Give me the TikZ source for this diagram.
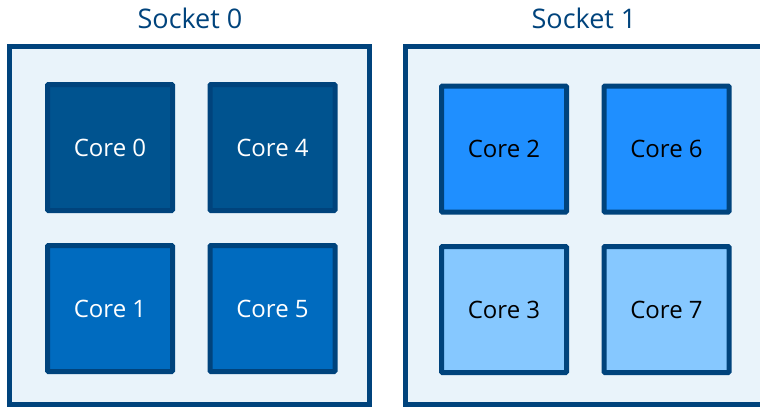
\documentclass[tikz,border=0pt]{standalone}
\usepackage{fontspec}
\setmainfont{Open Sans}
\usepackage{tikz}
\definecolor{SocketLine}{HTML}{00437C}
\definecolor{SocketFill}{HTML}{E9F3FA}
\definecolor{CoreDark}{HTML}{00538F}
\definecolor{CoreMid}{HTML}{006BBF}
\definecolor{CoreBright}{HTML}{1F8FFF}
\definecolor{CoreLight}{HTML}{86C8FF}
\tikzset{
  socket/.style={
    draw=SocketLine,
    fill=SocketFill,
    line width=5pt,
    minimum width=360pt,
    minimum height=358pt,
    inner sep=0pt},
  socket title/.style={
    text=SocketLine,
    font=\fontsize{27}{32}\selectfont},
  core/.style={
    draw=SocketLine,
    line width=5pt,
    rounded corners=1pt,
    minimum width=125pt,
    minimum height=126pt,
    inner sep=0pt,
    font=\fontsize{24}{29}\selectfont},
  core dark/.style={core, fill=CoreDark, text=white},
  core mid/.style={core, fill=CoreMid, text=white},
  core bright/.style={core, fill=CoreBright, text=black},
  core light/.style={core, fill=CoreLight, text=black},
}
\begin{document}
\begin{tikzpicture}[
    x=1pt,
    y=-1pt,
  ]
  \useasboundingbox (0,0) rectangle (760,407);
  % sockets
  \node[socket] (s0) at (189.5,225.3) {};
  \node[socket] (s1) at (585.5,225.3) {};
  \node[socket title] (s0-title) at (190,18) {Socket 0};
  \node[socket title] (s1-title) at (584,18) {Socket 1};
  % socket 0 cores
  \node[core dark] (c0) at (110,147.5) {Core 0};
  \node[core dark] (c4) at (272.5,147.5) {Core 4};
  \node[core mid] (c1) at (110,308.5) {Core 1};
  \node[core mid] (c5) at (272.5,308.5) {Core 5};
  % socket 1 cores
  \node[core bright] (c2) at (504,149) {Core 2};
  \node[core bright] (c6) at (666.5,149) {Core 6};
  \node[core light] (c3) at (504,309.5) {Core 3};
  \node[core light] (c7) at (666.5,309.5) {Core 7};
\end{tikzpicture}
\end{document}
